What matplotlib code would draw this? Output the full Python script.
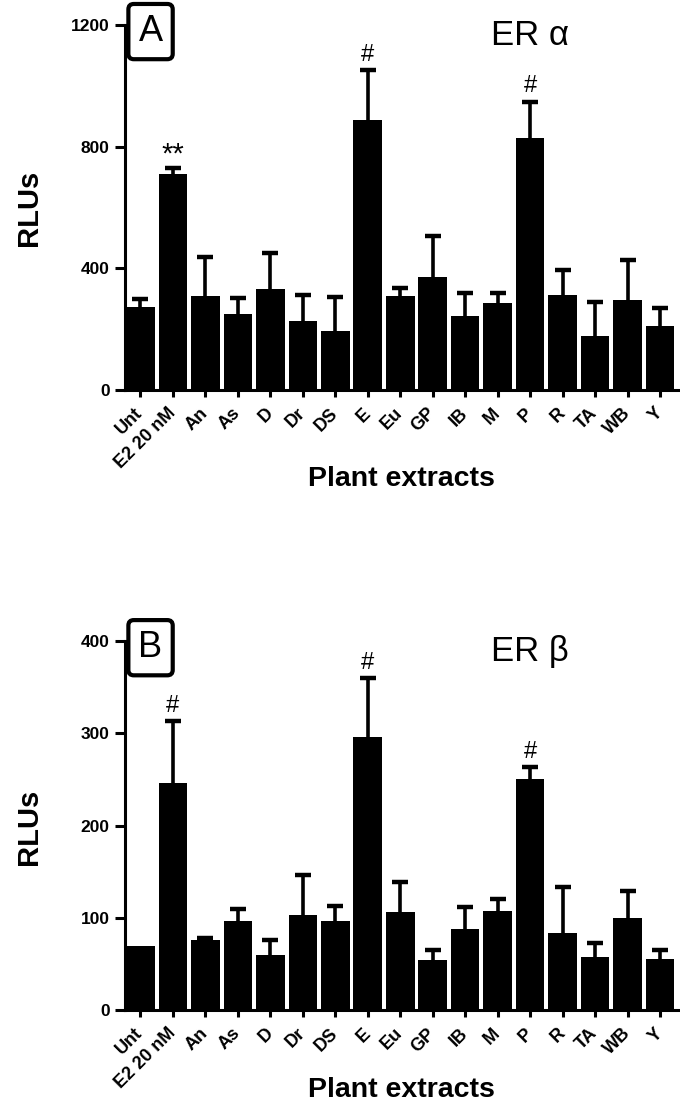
import matplotlib
matplotlib.use('Agg')
import matplotlib.pyplot as plt
import numpy as np

categories = ['Unt', 'E2 20 nM', 'An', 'As', 'D', 'Dr', 'DS', 'E', 'Eu', 'GP',
              'IB', 'M', 'P', 'R', 'TA', 'WB', 'Y']

# ER alpha (panel A): mean and top of error bar
era_mean = [272, 709, 309, 250, 331, 227, 194, 889, 309, 370, 243, 285, 827, 313, 178, 295, 210]
era_top = [298, 729, 436, 302, 452, 313, 306, 1053, 335, 505, 319, 319, 948, 396, 289, 429, 269]
era_marks = {1: '**', 7: '#', 12: '#'}

# ER beta (panel B)
erb_mean = [69, 246, 76, 96, 60, 103, 96, 296, 106, 54, 88, 107, 250, 84, 58, 100, 55]
erb_top = [69, 313, 78, 109, 76, 146, 113, 360, 139, 65, 112, 120, 263, 133, 73, 129, 65]
erb_marks = {1: '#', 7: '#', 12: '#'}

arial = ['Liberation Sans', 'DejaVu Sans']

fig = plt.figure(figsize=(6.8, 11.07), dpi=100)


def panel(rect, mean, top, marks, ymax, yticks, letter, title, ylab_y, xlab_y):
    ax = fig.add_axes(rect)
    x = np.arange(len(categories))
    mean = np.array(mean)
    top = np.array(top)
    ax.bar(x, mean, width=0.88, color='black', zorder=2)
    up = top - mean
    _, caps, _ = ax.errorbar(x, mean, yerr=[np.zeros_like(up), up], fmt='none',
                             ecolor='black', elinewidth=2.6, capsize=6, capthick=3.2,
                             zorder=1)
    caps[0].set_visible(False)
    caps[1].set_markevery(list(up > 0))
    for i, s in marks.items():
        fs = 21 if s == '**' else 17
        ax.annotate(s, (x[i], top[i]), xytext=(0, 3 if s == '#' else 0),
                    textcoords='offset points', ha='center', va='bottom',
                    fontsize=fs, family=arial)
    ax.set_xlim(-0.47, 16.55)
    ax.set_ylim(0, ymax)
    ax.set_yticks(yticks)
    ax.set_yticklabels([str(t) for t in yticks], family=arial, fontweight='bold',
                       fontsize=12.5)
    ax.set_xticks(x)
    ax.set_xticklabels(categories, rotation=45, ha='right', va='center',
                       rotation_mode='anchor', family=arial, fontweight='bold',
                       fontsize=13)
    for sp in ['top', 'right']:
        ax.spines[sp].set_visible(False)
    for sp in ['left', 'bottom']:
        ax.spines[sp].set_linewidth(2.2)
    ax.tick_params(axis='x', direction='out', length=5, width=2.2, pad=10)
    ax.tick_params(axis='y', direction='out', length=7, width=2.2, pad=4)
    ax.set_xlabel('Plant extracts', family=arial, fontweight='bold', fontsize=20.5,
                  va='center')
    ax.xaxis.set_label_coords(0.5, xlab_y)
    fig.text(0.042, ylab_y, 'RLUs', rotation=90, ha='center', va='center',
             family=arial, fontweight='bold', fontsize=21)
    ax.text(0.046, 0.982, letter, transform=ax.transAxes, ha='center', va='center',
            fontsize=26, family=arial,
            bbox=dict(boxstyle='round,pad=0.28,rounding_size=0.15', fc='white',
                      ec='black', lw=3))
    ax.text(0.733, 0.946, title, transform=ax.transAxes, ha='center', va='baseline',
            fontsize=25, family=arial)
    return ax


panel([0.184, 0.6477, 0.813, 0.3297], era_mean, era_top, era_marks, 1200,
      [0, 400, 800, 1200], 'A', 'ER α', 0.812, -0.243)
panel([0.184, 0.0876, 0.813, 0.3333], erb_mean, erb_top, erb_marks, 400,
      [0, 100, 200, 300, 400], 'B', 'ER β', 0.253, -0.217)

fig.savefig('out.png', dpi=100)
